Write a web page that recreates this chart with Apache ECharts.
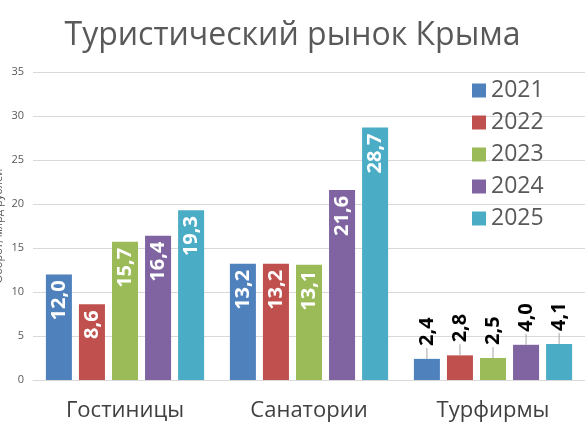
<!DOCTYPE html>
<html>
<head>
<meta charset="utf-8">
<script src="https://cdn.jsdelivr.net/npm/echarts@6/dist/echarts.min.js"></script>
<style>
  html, body { margin: 0; padding: 0; background: #fff; }
  #chart { width: 585px; height: 439px; }
</style>
</head>
<body>
<div id="chart"></div>
<script>
// данные
var categories = ['Гостиницы', 'Санатории', 'Турфирмы'];
var years = ['2021', '2022', '2023', '2024', '2025'];
var colors = ['#4f81bd', '#c0504d', '#9bbb59', '#8064a2', '#4bacc6'];
var v2021 = [12.0, 13.2, 2.4];
var v2022 = [8.6, 13.2, 2.8];
var v2023 = [15.7, 13.1, 2.5];
var v2024 = [16.4, 21.6, 4.0];
var v2025 = [19.3, 28.7, 4.1];
var seriesValues = [v2021, v2022, v2023, v2024, v2025];

var FONT = '"Open Sans", "Noto Sans", sans-serif';
var SMALL = 6; // ниже этого значения подпись выносится над столбцом

function fmt(v) {
  return v.toFixed(1).replace('.', ',');
}

function makeData(vals) {
  return vals.map(function (v) {
    if (v < SMALL) {
      return {
        value: v,
        label: {
          position: 'top',
          distance: 0,
          align: 'left',
          verticalAlign: 'middle',
          color: '#000'
        }
      };
    }
    return { value: v };
  });
}

var series = years.map(function (y, i) {
  return {
    name: y,
    type: 'bar',
    barGap: '27%',
    barCategoryGap: '14%',
    itemStyle: { color: colors[i] },
    data: makeData(seriesValues[i]),
    label: {
      show: true,
      position: 'insideTop',
      distance: 6,
      rotate: 90,
      align: 'right',
      verticalAlign: 'middle',
      color: '#fff',
      fontWeight: 'bold',
      fontSize: 20,
      fontFamily: FONT,
      formatter: function (p) {
        if (p.value < SMALL) {
          // выноска: короткая линия от столбца до подписи
          return '{ln|}{v|' + fmt(p.value) + '}';
        }
        return fmt(p.value);
      },
      rich: {
        ln: { width: 11, height: 1, backgroundColor: '#a6a6a6' },
        v: { padding: [0, 0, 0, 2] }
      }
    }
  };
});

var option = {
  animation: false,
  backgroundColor: '#fff',
  title: {
    text: 'Туристический рынок Крыма',
    left: 'center',
    top: 15,
    textStyle: {
      color: '#595959',
      fontSize: 32,
      fontWeight: 'normal',
      fontFamily: FONT
    }
  },
  legend: {
    orient: 'vertical',
    left: 467,
    top: 74,
    icon: 'rect',
    itemWidth: 14,
    itemHeight: 14,
    itemGap: 9,
    textStyle: {
      color: '#595959',
      fontSize: 23,
      fontFamily: FONT
    },
    data: years
  },
  grid: {
    left: 33,
    right: 0,
    top: 72,
    bottom: 59,
    outerBoundsMode: 'none'
  },
  xAxis: {
    type: 'category',
    data: categories,
    axisLine: { lineStyle: { color: '#d9d9d9' } },
    axisTick: { show: false },
    axisLabel: {
      color: '#404040',
      fontSize: 22,
      margin: 20,
      fontFamily: FONT
    }
  },
  yAxis: {
    type: 'value',
    min: 0,
    max: 35,
    interval: 5,
    name: 'Оборот, млрд рублей',
    nameLocation: 'middle',
    nameGap: 29,
    nameMoveOverlap: false,
    nameTextStyle: { color: '#595959', fontSize: 11, fontFamily: FONT },
    axisLine: { show: false },
    axisTick: { show: false },
    axisLabel: { color: '#595959', fontSize: 11, margin: 9, fontFamily: FONT },
    splitLine: { lineStyle: { color: '#d9d9d9' } }
  },
  series: series
};

var chart = echarts.init(document.getElementById('chart'));
chart.setOption(option);
</script>
</body>
</html>
